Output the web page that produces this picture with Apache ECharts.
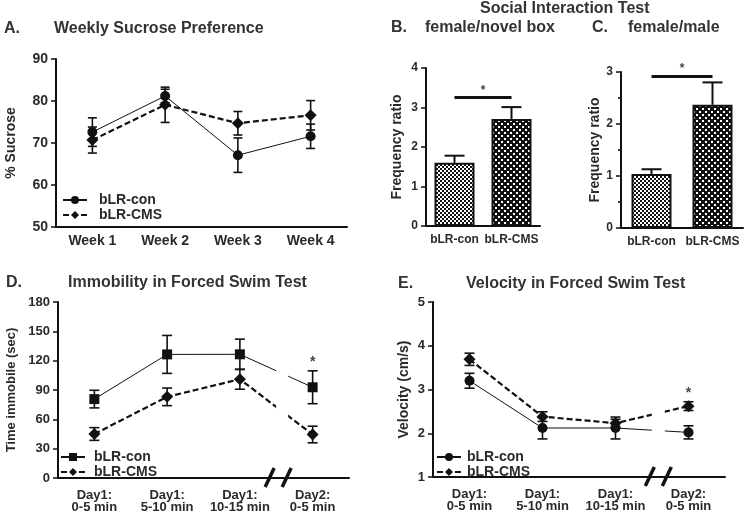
<!DOCTYPE html>
<html><head><meta charset="utf-8">
<script src="https://cdn.jsdelivr.net/npm/echarts@6/dist/echarts.min.js"></script>
<style>html,body{margin:0;padding:0;background:#fff}#c{width:750px;height:516px}</style>
</head><body><div id="c"></div>
<script>
// ---------- data ----------
const weeks = ['Week 1', 'Week 2', 'Week 3', 'Week 4'];
const sucroseCon = [72.6, 81.2, 67.1, 71.6];
const sucroseConSem = [3.4, 1.6, 4.1, 2.9];
const sucroseCms = [70.7, 79.1, 74.7, 76.6];
const sucroseCmsSem = [3.1, 4.2, 2.8, 3.5];

const groups = ['bLR-con', 'bLR-CMS'];
const novelBox = [1.6, 2.71];
const novelBoxSem = [0.18, 0.3];
const novelBoxSig = 3.26;
const femaleMale = [1.04, 2.37];
const femaleMaleSem = [0.09, 0.43];
const femaleMaleSig = 2.92;

const fstBins = ['Day1:\n0-5 min', 'Day1:\n5-10 min', 'Day1:\n10-15 min', 'Day2:\n0-5 min'];
const immCon = [80.7, 126.4, 126.5, 92.8];
const immConSem = [9, 19.4, 15.5, 16.8];
const immCms = [45, 83, 101, 44.5];
const immCmsSem = [6.5, 9, 10.2, 8.5];
const immSig = [0, 0, 0, 1];
const velCon = [3.2, 2.12, 2.12, 2.02];
const velConSem = [0.17, 0.25, 0.25, 0.15];
const velCms = [3.69, 2.38, 2.23, 2.62];
const velCmsSem = [0.14, 0.11, 0.09, 0.1];
const velSig = [0, 0, 0, 1];

// ---------- helpers ----------
const INK = '#111';
const TXT = '#2a2a2a';
const FONT = '"Liberation Sans", Arial, sans-serif';

function pattern(size, bg, fg, dots) {
  const c = document.createElement('canvas');
  c.width = size; c.height = size;
  const g = c.getContext('2d');
  g.fillStyle = bg; g.fillRect(0, 0, size, size);
  g.fillStyle = fg;
  dots.forEach(d => g.fillRect(d[0], d[1], d[2], d[3]));
  return { image: c, repeat: 'repeat' };
}
const conPattern = pattern(4, '#fff', '#111', [[0, 0, 2, 2], [2, 2, 2, 2]]);
const cmsPattern = pattern(6, '#111', '#fff', [[0, 0, 2, 2], [3, 3, 2, 2]]);

function errRender(capHalf, upOnly, sig) {
  return function (params, api) {
    const i = api.value(0), m = api.value(1), e = api.value(2);
    const top = api.coord([i, m + e]);
    const bot = api.coord([i, upOnly ? m : m - e]);
    const st = { stroke: INK, lineWidth: upOnly ? 2 : 1.6 };
    const ch = [
      { type: 'line', shape: { x1: top[0], y1: top[1], x2: bot[0], y2: bot[1] }, style: st },
      { type: 'line', shape: { x1: top[0] - capHalf, y1: top[1], x2: top[0] + capHalf, y2: top[1] }, style: st }
    ];
    if (!upOnly) ch.push({ type: 'line', shape: { x1: bot[0] - capHalf, y1: bot[1], x2: bot[0] + capHalf, y2: bot[1] }, style: st });
    if (sig && sig[params.dataIndex]) {
      ch.push({ type: 'text', style: { text: '*', x: top[0], y: top[1] - 2, align: 'center', verticalAlign: 'bottom', font: 'bold 14px ' + FONT, fill: '#444' } });
    }
    return { type: 'group', children: ch };
  };
}
function errSeries(ax, means, sems, capHalf, upOnly, sig) {
  return {
    type: 'custom', xAxisIndex: ax, yAxisIndex: ax, silent: true, z: 2,
    data: means.map((m, i) => [i, m, sems[i]]),
    renderItem: errRender(capHalf, upOnly, sig)
  };
}
function lineSeries(name, ax, data, symbol, size, dashed) {
  return {
    name: name, type: 'line', xAxisIndex: ax, yAxisIndex: ax, data: data,
    symbol: symbol, symbolSize: size, z: 3,
    itemStyle: { color: INK },
    lineStyle: { color: INK, width: dashed ? 2.2 : 1, type: dashed ? [6, 3] : 'solid' }
  };
}
function xAxis(grid, cats, fs, margin) {
  return {
    type: 'category', gridIndex: grid, data: cats, boundaryGap: true,
    axisLine: { lineStyle: { color: INK, width: 2 } },
    axisTick: { alignWithLabel: true, length: 5, lineStyle: { color: INK, width: 1.5 } },
    axisLabel: { color: TXT, fontSize: fs, fontWeight: 'bold', fontFamily: FONT, margin: margin, lineHeight: 12, interval: 0 }
  };
}
function yAxis(grid, min, max, interval, name, nameFs, nameGap, fs, minor) {
  return {
    type: 'value', gridIndex: grid, min: min, max: max, interval: interval,
    name: name, nameLocation: 'middle', nameGap: nameGap, nameRotate: 90,
    nameTextStyle: { color: TXT, fontSize: nameFs, fontWeight: 'bold', fontFamily: FONT },
    splitLine: { show: false },
    minorTick: { show: !!minor, splitNumber: 2, length: 3, lineStyle: { color: INK, width: 1.5 } },
    minorSplitLine: { show: false },
    axisLine: { show: true, lineStyle: { color: INK, width: 2 } },
    axisTick: { show: true, length: 5, lineStyle: { color: INK, width: 1.5 } },
    axisLabel: { color: TXT, fontSize: fs, fontWeight: 'bold', fontFamily: FONT, margin: 8 }
  };
}
function legend(prefix, left, top, pad) {
  return {
    data: [prefix + '|bLR-con', prefix + '|bLR-CMS'], orient: 'vertical', left: left, top: top,
    itemWidth: 24, itemHeight: 10, itemGap: 1, selectedMode: false, padding: 0,
    formatter: n => n.split('|')[1],
    textStyle: { color: TXT, fontSize: 14, fontWeight: 'bold', fontFamily: FONT, padding: [0, 0, 0, pad] }
  };
}

const chart = echarts.init(document.getElementById('c'), null, { renderer: 'canvas' });

const option = {
  animation: false,
  backgroundColor: '#fff',
  grid: [
    { left: 56, top: 59, width: 291, height: 168, outerBoundsMode: 'none' },
    { left: 426, top: 68, width: 114, height: 158, outerBoundsMode: 'none' },
    { left: 621, top: 72, width: 122, height: 156, outerBoundsMode: 'none' },
    { left: 58, top: 302, width: 291, height: 176, outerBoundsMode: 'none' },
    { left: 433, top: 302, width: 292, height: 175, outerBoundsMode: 'none' }
  ],
  xAxis: [
    xAxis(0, weeks, 14, 8),
    xAxis(1, groups, 12, 8),
    xAxis(2, groups, 12, 8),
    xAxis(3, fstBins, 13, 11),
    xAxis(4, fstBins, 13, 11)
  ],
  yAxis: [
    yAxis(0, 50, 90, 10, '% Sucrose', 14, 38, 14),
    yAxis(1, 0, 4, 1, 'Frequency ratio', 14, 22, 12),
    yAxis(2, 0, 3, 1, 'Frequency ratio', 14, 18, 12, true),
    yAxis(3, 0, 180, 30, 'Time immobile (sec)', 13, 40, 13),
    yAxis(4, 1, 5, 1, 'Velocity (cm/s)', 14, 22, 13)
  ],
  legend: [legend('A', 62, 193, 7), legend('D', 60, 450, 4), legend('E', 436, 450, 1)],
  series: [
    errSeries(0, sucroseCon, sucroseConSem, 4.5, false),
    errSeries(0, sucroseCms, sucroseCmsSem, 4.5, false),
    lineSeries('A|bLR-con', 0, sucroseCon, 'circle', 10, false),
    lineSeries('A|bLR-CMS', 0, sucroseCms, 'diamond', 12, true),

    {
      type: 'bar', xAxisIndex: 1, yAxisIndex: 1, barWidth: 40, z: 1,
      data: novelBox.map((v, i) => ({ value: v, itemStyle: { color: i ? cmsPattern : conPattern, borderColor: INK, borderWidth: 2 } })),
      markLine: {
        silent: true, symbol: 'none',
        lineStyle: { color: INK, width: 3, type: 'solid' },
        label: { show: true, formatter: '*', position: 'insideMiddleTop', distance: 1, color: '#444', fontSize: 12, fontWeight: 'bold' },
        data: [[{ coord: [0, novelBoxSig] }, { coord: [1, novelBoxSig] }]]
      }
    },
    errSeries(1, novelBox, novelBoxSem, 10, true),
    {
      type: 'bar', xAxisIndex: 2, yAxisIndex: 2, barWidth: 40, z: 1,
      data: femaleMale.map((v, i) => ({ value: v, itemStyle: { color: i ? cmsPattern : conPattern, borderColor: INK, borderWidth: 2 } })),
      markLine: {
        silent: true, symbol: 'none',
        lineStyle: { color: INK, width: 3, type: 'solid' },
        label: { show: true, formatter: '*', position: 'insideMiddleTop', distance: 1, color: '#444', fontSize: 12, fontWeight: 'bold' },
        data: [[{ coord: [0, femaleMaleSig] }, { coord: [1, femaleMaleSig] }]]
      }
    },
    errSeries(2, femaleMale, femaleMaleSem, 10, true),

    errSeries(3, immCon, immConSem, 5, false, immSig),
    errSeries(3, immCms, immCmsSem, 5, false),
    lineSeries('D|bLR-con', 3, immCon, 'rect', 10, false),
    lineSeries('D|bLR-CMS', 3, immCms, 'diamond', 12, true),

    errSeries(4, velCon, velConSem, 5, false),
    errSeries(4, velCms, velCmsSem, 5, false, velSig),
    lineSeries('E|bLR-con', 4, velCon, 'circle', 10, false),
    lineSeries('E|bLR-CMS', 4, velCms, 'diamond', 12, true)
  ]
};
chart.setOption(option);

// ---------- titles and axis-break marks ----------
function txt(t, x, y, size) {
  return { type: 'text', x: x, y: y, style: { text: t, font: 'bold ' + size + 'px ' + FONT, fill: '#333', verticalAlign: 'middle' } };
}
function breakMarks(ax, frac, gapShift, gapW) {
  const x2 = chart.convertToPixel({ xAxisIndex: ax }, 2);
  const x3 = chart.convertToPixel({ xAxisIndex: ax }, 3);
  const yMax = option.yAxis[ax].max, yMin = option.yAxis[ax].min;
  const yTop = chart.convertToPixel({ yAxisIndex: ax }, yMax);
  const yb = chart.convertToPixel({ yAxisIndex: ax }, yMin);
  const bx = x2 + frac * (x3 - x2);
  const gx = bx + gapShift;
  const st = { stroke: INK, lineWidth: 3.5 };
  return [
    { type: 'rect', z: 50, shape: { x: gx - gapW / 2, y: yTop, width: gapW, height: yb - yTop - 12 }, style: { fill: '#fff' } },
    { type: 'line', z: 51, shape: { x1: bx - 14, y1: yb + 9, x2: bx - 5, y2: yb - 10 }, style: st },
    { type: 'line', z: 51, shape: { x1: bx + 3, y1: yb + 9, x2: bx + 12, y2: yb - 10 }, style: st }
  ];
}
chart.setOption({
  graphic: [
    txt('A.', 4, 29, 16),
    txt('Weekly Sucrose Preference', 54, 29, 16),
    txt('Social Interaction Test', 480, 9, 16),
    txt('B.', 391, 28, 16),
    txt('female/novel box', 425, 28, 16),
    txt('C.', 592, 28, 16),
    txt('female/male', 628, 28, 16),
    txt('D.', 6, 283, 16),
    txt('Immobility in Forced Swim Test', 68, 283, 16),
    txt('E.', 398, 284, 16),
    txt('Velocity in Forced Swim Test', 466, 284, 16)
  ].concat(breakMarks(3, 0.54, 3, 12)).concat(breakMarks(4, 0.6, -1, 13))
});
</script>
</body></html>
